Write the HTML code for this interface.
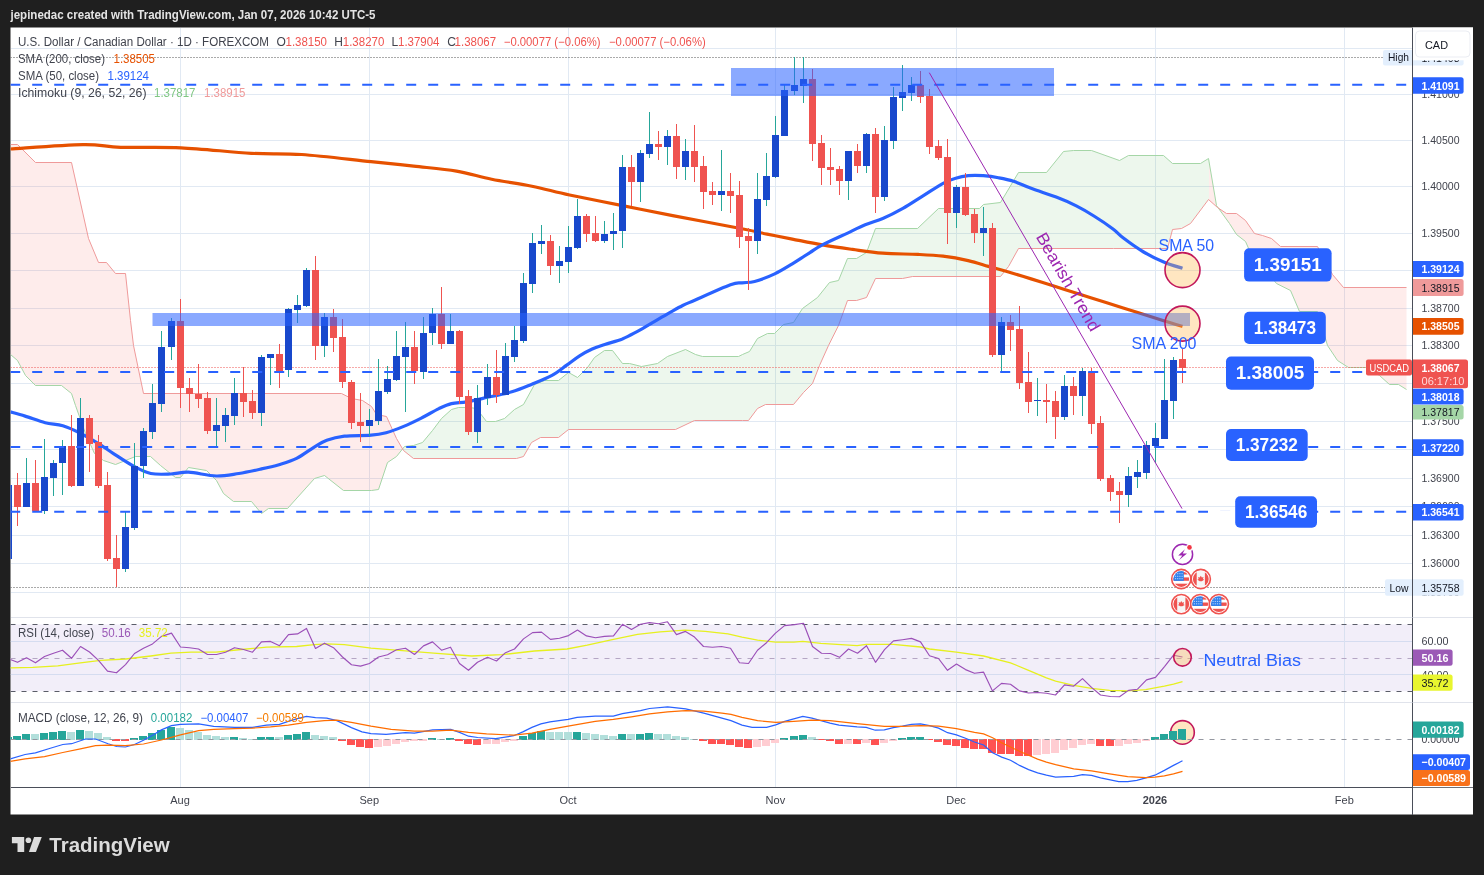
<!DOCTYPE html>
<html lang="en"><head><meta charset="utf-8"><title>USDCAD chart</title>
<style>html,body{margin:0;padding:0;background:#1f1f1f;overflow:hidden}svg{display:block}</style></head>
<body>
<svg width="1484" height="875" viewBox="0 0 1484 875" font-family='"Liberation Sans", "DejaVu Sans", sans-serif'>
<defs>
<clipPath id="cm"><rect x="10.5" y="27.5" width="1402.0" height="589.9"/></clipPath>
<clipPath id="cr"><rect x="10.5" y="617.4" width="1402.0" height="85.0"/></clipPath>
<clipPath id="cd"><rect x="10.5" y="702.4" width="1402.0" height="84.80000000000007"/></clipPath>
<clipPath id="cg"><rect x="402.6" y="27.5" width="806.4" height="600"/></clipPath>
<clipPath id="cp"><rect x="0" y="27.5" width="402.6" height="600"/><rect x="1209" y="27.5" width="300" height="600"/></clipPath>
</defs>
<rect width="1484" height="875" fill="#1f1f1f"/>
<rect x="10.5" y="27.5" width="1462.5" height="787.0" fill="#ffffff"/>
<g stroke="#e1e9f3" stroke-width="1" shape-rendering="crispEdges">
<line x1="10.5" y1="48.5" x2="1412.5" y2="48.5"/>
<line x1="10.5" y1="94" x2="1412.5" y2="94"/>
<line x1="10.5" y1="140.5" x2="1412.5" y2="140.5"/>
<line x1="10.5" y1="186.5" x2="1412.5" y2="186.5"/>
<line x1="10.5" y1="233.5" x2="1412.5" y2="233.5"/>
<line x1="10.5" y1="270.5" x2="1412.5" y2="270.5"/>
<line x1="10.5" y1="308.5" x2="1412.5" y2="308.5"/>
<line x1="10.5" y1="345.5" x2="1412.5" y2="345.5"/>
<line x1="10.5" y1="383.5" x2="1412.5" y2="383.5"/>
<line x1="10.5" y1="421.5" x2="1412.5" y2="421.5"/>
<line x1="10.5" y1="449.5" x2="1412.5" y2="449.5"/>
<line x1="10.5" y1="478.5" x2="1412.5" y2="478.5"/>
<line x1="10.5" y1="506.5" x2="1412.5" y2="506.5"/>
<line x1="10.5" y1="535.5" x2="1412.5" y2="535.5"/>
<line x1="10.5" y1="563.5" x2="1412.5" y2="563.5"/>
<line x1="10.5" y1="592.5" x2="1412.5" y2="592.5"/>
<line x1="180.5" y1="27.5" x2="180.5" y2="787.2"/>
<line x1="369.5" y1="27.5" x2="369.5" y2="787.2"/>
<line x1="568.5" y1="27.5" x2="568.5" y2="787.2"/>
<line x1="775.5" y1="27.5" x2="775.5" y2="787.2"/>
<line x1="956.5" y1="27.5" x2="956.5" y2="787.2"/>
<line x1="1155.5" y1="27.5" x2="1155.5" y2="787.2"/>
<line x1="1344.5" y1="27.5" x2="1344.5" y2="787.2"/>
<line x1="10.5" y1="641.5" x2="1412.5" y2="641.5"/>
<line x1="10.5" y1="674.5" x2="1412.5" y2="674.5"/>
</g>
<g clip-path="url(#cm)">
<g clip-path="url(#cg)"><polygon points="10.5,354.5 17.5,360.5 25.5,375.5 35.5,385.5 61.5,385.5 71.5,393.5 75.5,405.5 85.5,433.5 94.5,453.5 103.5,460.5 115.5,464.5 125.5,460.5 135.5,456.5 150.5,456.5 160.5,465.5 175.5,477.5 180.5,477.5 188.5,467.5 206.5,470.5 216.5,480.5 223.5,493.5 233.5,501.5 251.5,501.5 261.5,513.5 268.5,508.5 287.5,508.5 314.5,478.5 324.5,475.5 343.5,490.5 371.5,490.5 378.5,489.5 387.5,462.5 396.5,456.5 404.5,446.5 413.5,445.5 422.5,442.5 432.5,430.5 441.5,418.5 451.5,409.5 458.5,407.5 469.5,407.5 476.5,408.5 486.5,421.5 495.5,421.5 504.5,418.5 514.5,409.5 523.5,404.5 534.5,384.5 544.5,380.5 558.5,380.5 568.5,372.5 577.5,377.5 587.5,367.5 594.5,357.5 604.5,350.5 612.5,350.5 622.5,363.5 629.5,363.5 641.5,366.5 657.5,363.5 667.5,356.5 685.5,349.5 695.5,354.5 702.5,356.5 738.5,356.5 742.5,354.5 749.5,351.5 757.5,338.5 767.5,333.5 774.5,333.5 783.5,324.5 793.5,322.5 802.5,308.5 817.5,297.5 829.5,282.5 838.5,280.5 847.5,258.5 856.5,258.5 866.5,252.5 875.5,228.5 917.5,228.5 938.5,208.5 979.5,208.5 983.5,204.5 1000.5,202.5 1018.5,172.5 1046.5,172.5 1063.5,151.5 1073.5,150.5 1091.5,150.5 1119.5,160.5 1128.5,155.5 1163.5,155.5 1172.5,163.5 1200.5,163.5 1208.5,158.5 1216.5,205.5 1229.5,223.5 1236.5,234.5 1245.5,241.5 1249.5,250.5 1276.5,283.5 1290.5,290.5 1299.5,311.5 1317.5,311.5 1327.5,345.5 1337.5,360.5 1348.5,367.5 1367.5,367.5 1379.5,375.5 1389.5,384.5 1398.5,384.5 1406.5,389.5 1406.5,287.5 1343.5,287.5 1332.5,274.5 1317.5,246.5 1280.5,246.5 1271.5,238.5 1262.5,235.5 1254.5,233.5 1245.5,220.5 1236.5,213.5 1226.5,213.5 1217.5,207.5 1208.5,199.5 1190.5,223.5 1181.5,228.5 1172.5,229.5 1167.5,248.5 1113.5,248.5 1018.5,248.5 1008.5,266.5 1000.5,276.5 912.5,276.5 902.5,278.5 875.5,278.5 866.5,297.5 856.5,300.5 847.5,300.5 838.5,325.5 828.5,345.5 819.5,365.5 812.5,383.5 803.5,392.5 793.5,404.5 765.5,404.5 757.5,408.5 748.5,420.5 742.5,420.5 694.5,420.5 675.5,429.5 568.5,429.5 558.5,437.5 540.5,437.5 531.5,442.5 523.5,456.5 516.5,458.5 413.5,458.5 403.5,450.5 396.5,438.5 386.5,416.5 376.5,414.5 371.5,406.5 362.5,400.5 351.5,398.5 341.5,393.5 143.5,393.5 133.5,345.5 130.5,320.5 125.5,273.5 115.5,273.5 106.5,262.5 98.5,262.5 88.5,238.5 71.5,162.5 35.5,162.5 17.5,144.5 10.5,144.5" fill="#4caf50" fill-opacity="0.1"/></g>
<g clip-path="url(#cp)"><polygon points="10.5,354.5 17.5,360.5 25.5,375.5 35.5,385.5 61.5,385.5 71.5,393.5 75.5,405.5 85.5,433.5 94.5,453.5 103.5,460.5 115.5,464.5 125.5,460.5 135.5,456.5 150.5,456.5 160.5,465.5 175.5,477.5 180.5,477.5 188.5,467.5 206.5,470.5 216.5,480.5 223.5,493.5 233.5,501.5 251.5,501.5 261.5,513.5 268.5,508.5 287.5,508.5 314.5,478.5 324.5,475.5 343.5,490.5 371.5,490.5 378.5,489.5 387.5,462.5 396.5,456.5 404.5,446.5 413.5,445.5 422.5,442.5 432.5,430.5 441.5,418.5 451.5,409.5 458.5,407.5 469.5,407.5 476.5,408.5 486.5,421.5 495.5,421.5 504.5,418.5 514.5,409.5 523.5,404.5 534.5,384.5 544.5,380.5 558.5,380.5 568.5,372.5 577.5,377.5 587.5,367.5 594.5,357.5 604.5,350.5 612.5,350.5 622.5,363.5 629.5,363.5 641.5,366.5 657.5,363.5 667.5,356.5 685.5,349.5 695.5,354.5 702.5,356.5 738.5,356.5 742.5,354.5 749.5,351.5 757.5,338.5 767.5,333.5 774.5,333.5 783.5,324.5 793.5,322.5 802.5,308.5 817.5,297.5 829.5,282.5 838.5,280.5 847.5,258.5 856.5,258.5 866.5,252.5 875.5,228.5 917.5,228.5 938.5,208.5 979.5,208.5 983.5,204.5 1000.5,202.5 1018.5,172.5 1046.5,172.5 1063.5,151.5 1073.5,150.5 1091.5,150.5 1119.5,160.5 1128.5,155.5 1163.5,155.5 1172.5,163.5 1200.5,163.5 1208.5,158.5 1216.5,205.5 1229.5,223.5 1236.5,234.5 1245.5,241.5 1249.5,250.5 1276.5,283.5 1290.5,290.5 1299.5,311.5 1317.5,311.5 1327.5,345.5 1337.5,360.5 1348.5,367.5 1367.5,367.5 1379.5,375.5 1389.5,384.5 1398.5,384.5 1406.5,389.5 1406.5,287.5 1343.5,287.5 1332.5,274.5 1317.5,246.5 1280.5,246.5 1271.5,238.5 1262.5,235.5 1254.5,233.5 1245.5,220.5 1236.5,213.5 1226.5,213.5 1217.5,207.5 1208.5,199.5 1190.5,223.5 1181.5,228.5 1172.5,229.5 1167.5,248.5 1113.5,248.5 1018.5,248.5 1008.5,266.5 1000.5,276.5 912.5,276.5 902.5,278.5 875.5,278.5 866.5,297.5 856.5,300.5 847.5,300.5 838.5,325.5 828.5,345.5 819.5,365.5 812.5,383.5 803.5,392.5 793.5,404.5 765.5,404.5 757.5,408.5 748.5,420.5 742.5,420.5 694.5,420.5 675.5,429.5 568.5,429.5 558.5,437.5 540.5,437.5 531.5,442.5 523.5,456.5 516.5,458.5 413.5,458.5 403.5,450.5 396.5,438.5 386.5,416.5 376.5,414.5 371.5,406.5 362.5,400.5 351.5,398.5 341.5,393.5 143.5,393.5 133.5,345.5 130.5,320.5 125.5,273.5 115.5,273.5 106.5,262.5 98.5,262.5 88.5,238.5 71.5,162.5 35.5,162.5 17.5,144.5 10.5,144.5" fill="#f44336" fill-opacity="0.1"/></g>
<polyline points="10.5,354.5 17.5,360.5 25.5,375.5 35.5,385.5 61.5,385.5 71.5,393.5 75.5,405.5 85.5,433.5 94.5,453.5 103.5,460.5 115.5,464.5 125.5,460.5 135.5,456.5 150.5,456.5 160.5,465.5 175.5,477.5 180.5,477.5 188.5,467.5 206.5,470.5 216.5,480.5 223.5,493.5 233.5,501.5 251.5,501.5 261.5,513.5 268.5,508.5 287.5,508.5 314.5,478.5 324.5,475.5 343.5,490.5 371.5,490.5 378.5,489.5 387.5,462.5 396.5,456.5 404.5,446.5 413.5,445.5 422.5,442.5 432.5,430.5 441.5,418.5 451.5,409.5 458.5,407.5 469.5,407.5 476.5,408.5 486.5,421.5 495.5,421.5 504.5,418.5 514.5,409.5 523.5,404.5 534.5,384.5 544.5,380.5 558.5,380.5 568.5,372.5 577.5,377.5 587.5,367.5 594.5,357.5 604.5,350.5 612.5,350.5 622.5,363.5 629.5,363.5 641.5,366.5 657.5,363.5 667.5,356.5 685.5,349.5 695.5,354.5 702.5,356.5 738.5,356.5 742.5,354.5 749.5,351.5 757.5,338.5 767.5,333.5 774.5,333.5 783.5,324.5 793.5,322.5 802.5,308.5 817.5,297.5 829.5,282.5 838.5,280.5 847.5,258.5 856.5,258.5 866.5,252.5 875.5,228.5 917.5,228.5 938.5,208.5 979.5,208.5 983.5,204.5 1000.5,202.5 1018.5,172.5 1046.5,172.5 1063.5,151.5 1073.5,150.5 1091.5,150.5 1119.5,160.5 1128.5,155.5 1163.5,155.5 1172.5,163.5 1200.5,163.5 1208.5,158.5 1216.5,205.5 1229.5,223.5 1236.5,234.5 1245.5,241.5 1249.5,250.5 1276.5,283.5 1290.5,290.5 1299.5,311.5 1317.5,311.5 1327.5,345.5 1337.5,360.5 1348.5,367.5 1367.5,367.5 1379.5,375.5 1389.5,384.5 1398.5,384.5 1406.5,389.5" fill="none" stroke="#a5d6a7" stroke-width="1"/>
<polyline points="10.5,144.5 17.5,144.5 35.5,162.5 71.5,162.5 88.5,238.5 98.5,262.5 106.5,262.5 115.5,273.5 125.5,273.5 130.5,320.5 133.5,345.5 143.5,393.5 341.5,393.5 351.5,398.5 362.5,400.5 371.5,406.5 376.5,414.5 386.5,416.5 396.5,438.5 403.5,450.5 413.5,458.5 516.5,458.5 523.5,456.5 531.5,442.5 540.5,437.5 558.5,437.5 568.5,429.5 675.5,429.5 694.5,420.5 742.5,420.5 748.5,420.5 757.5,408.5 765.5,404.5 793.5,404.5 803.5,392.5 812.5,383.5 819.5,365.5 828.5,345.5 838.5,325.5 847.5,300.5 856.5,300.5 866.5,297.5 875.5,278.5 902.5,278.5 912.5,276.5 1000.5,276.5 1008.5,266.5 1018.5,248.5 1113.5,248.5 1167.5,248.5 1172.5,229.5 1181.5,228.5 1190.5,223.5 1208.5,199.5 1217.5,207.5 1226.5,213.5 1236.5,213.5 1245.5,220.5 1254.5,233.5 1262.5,235.5 1271.5,238.5 1280.5,246.5 1317.5,246.5 1332.5,274.5 1343.5,287.5 1406.5,287.5" fill="none" stroke="#ef9a9a" stroke-width="1"/>
<line x1="10.5" y1="57.5" x2="1412.5" y2="57.5" stroke="#555" stroke-width="1" stroke-dasharray="1 2"/>
<line x1="10.5" y1="587.5" x2="1412.5" y2="587.5" stroke="#555" stroke-width="1" stroke-dasharray="1 2"/>
<line x1="10.5" y1="367.5" x2="1412.5" y2="367.5" stroke="#ef5350" stroke-width="1" stroke-dasharray="1 2"/>
<path d="M10.3,149 C22.4,148.3 64.6,145 83,144.7 C101.4,144.4 104.4,146.8 120.7,147.3 C137,147.8 159.2,146.8 181,147.8 C202.8,148.8 231.3,152.2 251.4,153.3 C271.5,154.4 281.8,153.1 301.7,154.5 C321.6,155.9 352.3,159.7 371,161.6 C389.7,163.5 399.4,164.5 413.7,166.1 C427.9,167.7 443.5,168.9 456.5,171.1 C469.5,173.3 479.1,176.7 491.7,179.2 C504.3,181.7 518.9,183.6 531.9,186.2 C544.9,188.8 554.5,191.8 569.6,195 C584.7,198.2 605.2,202.2 622.4,205.6 C639.6,209 652.8,211.7 672.7,215.6 C692.6,219.5 726.3,225.7 742,228.8 C757.7,231.9 758.8,232.4 767.1,234.1 C775.5,235.8 783.1,237.3 792.3,239.1 C801.5,240.9 812.4,243.2 822.4,244.9 C832.5,246.6 842.6,248 852.6,249.4 C862.7,250.8 871.9,252.3 882.8,253.2 C893.7,254 907.9,253.9 918,254.4 C928,254.9 934.7,255.2 943.1,256.2 C951.5,257.2 960.7,258.9 968.2,260.6 C975.8,262.3 982.1,264.6 988.4,266.4 C994.6,268.2 998.9,269.1 1006,271.2 C1013.1,273.3 1022.7,276.3 1031.1,278.9 C1039.5,281.5 1047.8,284.1 1056.2,286.8 C1064.6,289.5 1073.1,292.2 1081.4,294.8 C1089.7,297.4 1096.5,299.5 1106,302.5 C1115.5,305.5 1128.9,309.8 1138.5,312.8 C1148.1,315.9 1156.4,318.5 1163.7,320.8 C1171,323.1 1179.4,325.5 1182.5,326.4" fill="none" stroke="#e65100" stroke-width="3.2" stroke-linejoin="round"/>
<path d="M10.3,411.9 C12.8,412.6 19.3,414.3 25.1,416.1 C31,417.9 39,421.1 45.2,422.7 C51.5,424.3 57,423.9 62.8,425.7 C68.7,427.5 74.6,430.3 80.4,433.2 C86.3,436.2 92.6,439.9 98,443.3 C103.5,446.6 107.3,449.6 113.1,453.3 C119,457.1 126.9,462.6 133.2,465.9 C139.5,469.3 144.5,472.1 150.8,473.5 C157.1,474.8 164.7,474.2 170.9,474 C177.2,473.7 181,471.9 188.5,472.2 C196.1,472.5 207.8,475.8 216.2,476 C224.6,476.2 231.3,474.6 238.8,473.5 C246.4,472.3 254.7,470.4 261.4,468.9 C268.1,467.5 273.2,466.4 279,464.7 C284.9,462.9 290.8,461.3 296.6,458.4 C302.5,455.4 309.2,450.1 314.2,447.1 C319.3,444 321.8,442.1 326.8,440.3 C331.8,438.5 337,437.1 344.4,436.2 C351.8,435.4 364.1,435.8 371,435.2 C378,434.7 380.6,434.2 386.1,432.7 C391.5,431.3 397.8,428.9 403.7,426.4 C409.5,424 415.4,421.1 421.3,418.1 C427.1,415.2 433.8,411 438.9,408.6 C443.9,406.2 446.8,404.7 451.4,403.6 C456.1,402.4 460.7,402.8 466.5,401.8 C472.4,400.8 479.1,399.2 486.6,397.5 C494.2,395.9 504.2,394 511.8,391.8 C519.3,389.5 525.2,386.9 531.9,384.2 C538.6,381.5 546.1,378.6 552,375.4 C557.9,372.2 562.5,368.1 567.1,364.9 C571.7,361.6 575.5,358.4 579.6,355.8 C583.8,353.2 588,350.9 592.2,349 C596.4,347.1 599.8,346.2 604.8,344.5 C609.8,342.8 616.9,341.1 622.4,339 C627.8,336.8 632.4,334.1 637.5,331.4 C642.5,328.7 647.5,325.6 652.5,322.6 C657.6,319.7 662.6,316.7 667.6,313.8 C672.7,311 678.1,307.8 682.7,305.5 C687.3,303.2 687.3,303.5 695.3,300 C703.2,296.5 722.7,287.6 730.5,284.8 C738.3,281.9 738,283.3 742,282.8 C746.1,282.2 749.1,282.9 754.6,281.5 C760,280 768.4,276.9 774.7,273.9 C781,271 786.4,267.4 792.3,263.9 C798.1,260.3 804.8,255.7 809.9,252.6 C814.9,249.4 816.2,248.1 822.4,244.9 C828.7,241.6 840.5,236.4 847.6,233.1 C854.7,229.7 859.3,227.2 865.2,224.8 C871,222.3 876.5,221.2 882.8,218.5 C889.1,215.8 896.2,212.2 902.9,208.4 C909.6,204.7 916.3,200 923,195.9 C929.7,191.7 937.7,186.2 943.1,183.3 C948.6,180.4 951.5,179.5 955.7,178.3 C959.9,177 963.6,176.2 968.2,175.7 C972.9,175.3 978.3,175.4 983.3,175.7 C988.4,176.1 993.4,176.8 998.4,177.8 C1003.4,178.7 1008,179.5 1013.5,181.3 C1018.9,183 1024,185.7 1031.1,188.3 C1038.2,191 1048.7,194.2 1056.2,197.1 C1063.8,200 1070.1,202.8 1076.3,205.9 C1082.6,209.1 1087.8,212.1 1093.9,216 C1100.1,219.8 1108.1,225.3 1113,229 C1118,232.7 1118.4,234.3 1123.4,238.1 C1128.5,242 1136.8,248 1143.6,252 C1150.3,256 1157.2,259.3 1163.7,262 C1170.2,264.8 1179.4,267.3 1182.5,268.3" fill="none" stroke="#2962ff" stroke-width="3.2" stroke-linejoin="round"/>
<line x1="8.5" y1="480" x2="8.5" y2="562" stroke="#26a69a" stroke-width="1"/>
<rect x="5.0" y="485" width="7" height="74" fill="#1848cc"/>
<line x1="17.5" y1="473" x2="17.5" y2="526" stroke="#ef5350" stroke-width="1"/>
<rect x="14.0" y="485" width="7" height="22" fill="#ef5350"/>
<line x1="26.5" y1="458" x2="26.5" y2="507" stroke="#26a69a" stroke-width="1"/>
<rect x="23.0" y="483" width="7" height="24" fill="#1848cc"/>
<line x1="35.5" y1="460" x2="35.5" y2="512" stroke="#ef5350" stroke-width="1"/>
<rect x="32.0" y="483" width="7" height="28" fill="#ef5350"/>
<line x1="44.5" y1="439" x2="44.5" y2="514" stroke="#26a69a" stroke-width="1"/>
<rect x="41.0" y="477" width="7" height="34" fill="#1848cc"/>
<line x1="53.5" y1="460" x2="53.5" y2="496" stroke="#26a69a" stroke-width="1"/>
<rect x="50.0" y="463" width="7" height="15" fill="#1848cc"/>
<line x1="62.5" y1="440" x2="62.5" y2="495" stroke="#26a69a" stroke-width="1"/>
<rect x="59.0" y="446" width="7" height="17" fill="#1848cc"/>
<line x1="71.5" y1="415" x2="71.5" y2="487" stroke="#ef5350" stroke-width="1"/>
<rect x="68.0" y="446" width="7" height="40" fill="#ef5350"/>
<line x1="80.5" y1="398" x2="80.5" y2="486" stroke="#26a69a" stroke-width="1"/>
<rect x="77.0" y="418" width="7" height="68" fill="#1848cc"/>
<line x1="89.5" y1="415" x2="89.5" y2="472" stroke="#ef5350" stroke-width="1"/>
<rect x="86.0" y="418" width="7" height="26" fill="#ef5350"/>
<line x1="98.5" y1="435" x2="98.5" y2="488" stroke="#ef5350" stroke-width="1"/>
<rect x="95.0" y="442" width="7" height="44" fill="#ef5350"/>
<line x1="107.5" y1="472" x2="107.5" y2="561" stroke="#ef5350" stroke-width="1"/>
<rect x="104.0" y="485" width="7" height="74" fill="#ef5350"/>
<line x1="116.5" y1="535" x2="116.5" y2="587" stroke="#ef5350" stroke-width="1"/>
<rect x="113.0" y="558" width="7" height="11" fill="#ef5350"/>
<line x1="125.5" y1="512" x2="125.5" y2="572" stroke="#26a69a" stroke-width="1"/>
<rect x="122.0" y="527" width="7" height="42" fill="#1848cc"/>
<line x1="134.5" y1="443" x2="134.5" y2="530" stroke="#26a69a" stroke-width="1"/>
<rect x="131.0" y="466" width="7" height="62" fill="#1848cc"/>
<line x1="143.5" y1="428" x2="143.5" y2="478" stroke="#26a69a" stroke-width="1"/>
<rect x="140.0" y="431" width="7" height="35" fill="#1848cc"/>
<line x1="152.5" y1="384" x2="152.5" y2="439" stroke="#26a69a" stroke-width="1"/>
<rect x="149.0" y="403" width="7" height="29" fill="#1848cc"/>
<line x1="161.5" y1="331" x2="161.5" y2="412" stroke="#26a69a" stroke-width="1"/>
<rect x="158.0" y="347" width="7" height="57" fill="#1848cc"/>
<line x1="171.5" y1="318" x2="171.5" y2="360" stroke="#26a69a" stroke-width="1"/>
<rect x="168.0" y="321" width="7" height="26" fill="#1848cc"/>
<line x1="180.5" y1="299" x2="180.5" y2="408" stroke="#ef5350" stroke-width="1"/>
<rect x="177.0" y="321" width="7" height="67" fill="#ef5350"/>
<line x1="189.5" y1="378" x2="189.5" y2="412" stroke="#ef5350" stroke-width="1"/>
<rect x="186.0" y="388" width="7" height="6" fill="#ef5350"/>
<line x1="198.5" y1="364" x2="198.5" y2="408" stroke="#ef5350" stroke-width="1"/>
<rect x="195.0" y="394" width="7" height="5" fill="#ef5350"/>
<line x1="207.5" y1="392" x2="207.5" y2="434" stroke="#ef5350" stroke-width="1"/>
<rect x="204.0" y="398" width="7" height="33" fill="#ef5350"/>
<line x1="216.5" y1="398" x2="216.5" y2="447" stroke="#26a69a" stroke-width="1"/>
<rect x="213.0" y="425" width="7" height="6" fill="#1848cc"/>
<line x1="225.5" y1="408" x2="225.5" y2="442" stroke="#26a69a" stroke-width="1"/>
<rect x="222.0" y="415" width="7" height="11" fill="#1848cc"/>
<line x1="234.5" y1="378" x2="234.5" y2="425" stroke="#26a69a" stroke-width="1"/>
<rect x="231.0" y="393" width="7" height="23" fill="#1848cc"/>
<line x1="243.5" y1="367" x2="243.5" y2="417" stroke="#ef5350" stroke-width="1"/>
<rect x="240.0" y="393" width="7" height="9" fill="#ef5350"/>
<line x1="252.5" y1="390" x2="252.5" y2="419" stroke="#ef5350" stroke-width="1"/>
<rect x="249.0" y="401" width="7" height="12" fill="#ef5350"/>
<line x1="261.5" y1="355" x2="261.5" y2="426" stroke="#26a69a" stroke-width="1"/>
<rect x="258.0" y="357" width="7" height="56" fill="#1848cc"/>
<line x1="270.5" y1="354" x2="270.5" y2="385" stroke="#26a69a" stroke-width="1"/>
<rect x="267.0" y="354" width="7" height="4" fill="#1848cc"/>
<line x1="279.5" y1="344" x2="279.5" y2="388" stroke="#ef5350" stroke-width="1"/>
<rect x="276.0" y="354" width="7" height="17" fill="#ef5350"/>
<line x1="288.5" y1="308" x2="288.5" y2="377" stroke="#26a69a" stroke-width="1"/>
<rect x="285.0" y="309" width="7" height="61" fill="#1848cc"/>
<line x1="297.5" y1="295" x2="297.5" y2="323" stroke="#26a69a" stroke-width="1"/>
<rect x="294.0" y="305" width="7" height="5" fill="#1848cc"/>
<line x1="306.5" y1="268" x2="306.5" y2="307" stroke="#26a69a" stroke-width="1"/>
<rect x="303.0" y="270" width="7" height="36" fill="#1848cc"/>
<line x1="315.5" y1="256" x2="315.5" y2="360" stroke="#ef5350" stroke-width="1"/>
<rect x="312.0" y="270" width="7" height="76" fill="#ef5350"/>
<line x1="324.5" y1="313" x2="324.5" y2="357" stroke="#26a69a" stroke-width="1"/>
<rect x="321.0" y="317" width="7" height="29" fill="#1848cc"/>
<line x1="333.5" y1="309" x2="333.5" y2="352" stroke="#ef5350" stroke-width="1"/>
<rect x="330.0" y="317" width="7" height="21" fill="#ef5350"/>
<line x1="342.5" y1="319" x2="342.5" y2="388" stroke="#ef5350" stroke-width="1"/>
<rect x="339.0" y="337" width="7" height="45" fill="#ef5350"/>
<line x1="351.5" y1="380" x2="351.5" y2="429" stroke="#ef5350" stroke-width="1"/>
<rect x="348.0" y="382" width="7" height="41" fill="#ef5350"/>
<line x1="360.5" y1="393" x2="360.5" y2="442" stroke="#ef5350" stroke-width="1"/>
<rect x="357.0" y="422" width="7" height="4" fill="#ef5350"/>
<line x1="369.5" y1="409" x2="369.5" y2="436" stroke="#26a69a" stroke-width="1"/>
<rect x="366.0" y="420" width="7" height="6" fill="#1848cc"/>
<line x1="378.5" y1="359" x2="378.5" y2="425" stroke="#26a69a" stroke-width="1"/>
<rect x="375.0" y="391" width="7" height="30" fill="#1848cc"/>
<line x1="387.5" y1="366" x2="387.5" y2="394" stroke="#26a69a" stroke-width="1"/>
<rect x="384.0" y="379" width="7" height="13" fill="#1848cc"/>
<line x1="396.5" y1="331" x2="396.5" y2="381" stroke="#26a69a" stroke-width="1"/>
<rect x="393.0" y="356" width="7" height="24" fill="#1848cc"/>
<line x1="405.5" y1="322" x2="405.5" y2="412" stroke="#26a69a" stroke-width="1"/>
<rect x="402.0" y="347" width="7" height="10" fill="#1848cc"/>
<line x1="414.5" y1="331" x2="414.5" y2="384" stroke="#ef5350" stroke-width="1"/>
<rect x="411.0" y="347" width="7" height="24" fill="#ef5350"/>
<line x1="423.5" y1="317" x2="423.5" y2="379" stroke="#26a69a" stroke-width="1"/>
<rect x="420.0" y="333" width="7" height="39" fill="#1848cc"/>
<line x1="432.5" y1="308" x2="432.5" y2="345" stroke="#26a69a" stroke-width="1"/>
<rect x="429.0" y="314" width="7" height="19" fill="#1848cc"/>
<line x1="441.5" y1="287" x2="441.5" y2="349" stroke="#ef5350" stroke-width="1"/>
<rect x="438.0" y="314" width="7" height="30" fill="#ef5350"/>
<line x1="450.5" y1="314" x2="450.5" y2="344" stroke="#26a69a" stroke-width="1"/>
<rect x="447.0" y="331" width="7" height="13" fill="#1848cc"/>
<line x1="459.5" y1="330" x2="459.5" y2="404" stroke="#ef5350" stroke-width="1"/>
<rect x="456.0" y="331" width="7" height="66" fill="#ef5350"/>
<line x1="468.5" y1="390" x2="468.5" y2="435" stroke="#ef5350" stroke-width="1"/>
<rect x="465.0" y="396" width="7" height="36" fill="#ef5350"/>
<line x1="477.5" y1="385" x2="477.5" y2="443" stroke="#26a69a" stroke-width="1"/>
<rect x="474.0" y="398" width="7" height="34" fill="#1848cc"/>
<line x1="487.5" y1="364" x2="487.5" y2="405" stroke="#26a69a" stroke-width="1"/>
<rect x="484.0" y="377" width="7" height="21" fill="#1848cc"/>
<line x1="496.5" y1="350" x2="496.5" y2="403" stroke="#ef5350" stroke-width="1"/>
<rect x="493.0" y="377" width="7" height="18" fill="#ef5350"/>
<line x1="505.5" y1="343" x2="505.5" y2="395" stroke="#26a69a" stroke-width="1"/>
<rect x="502.0" y="356" width="7" height="39" fill="#1848cc"/>
<line x1="514.5" y1="326" x2="514.5" y2="362" stroke="#26a69a" stroke-width="1"/>
<rect x="511.0" y="340" width="7" height="17" fill="#1848cc"/>
<line x1="523.5" y1="273" x2="523.5" y2="343" stroke="#26a69a" stroke-width="1"/>
<rect x="520.0" y="283" width="7" height="58" fill="#1848cc"/>
<line x1="532.5" y1="233" x2="532.5" y2="293" stroke="#26a69a" stroke-width="1"/>
<rect x="529.0" y="243" width="7" height="41" fill="#1848cc"/>
<line x1="541.5" y1="225" x2="541.5" y2="254" stroke="#26a69a" stroke-width="1"/>
<rect x="538.0" y="241" width="7" height="3" fill="#1848cc"/>
<line x1="550.5" y1="235" x2="550.5" y2="275" stroke="#ef5350" stroke-width="1"/>
<rect x="547.0" y="241" width="7" height="25" fill="#ef5350"/>
<line x1="559.5" y1="246" x2="559.5" y2="283" stroke="#26a69a" stroke-width="1"/>
<rect x="556.0" y="261" width="7" height="5" fill="#1848cc"/>
<line x1="568.5" y1="226" x2="568.5" y2="273" stroke="#26a69a" stroke-width="1"/>
<rect x="565.0" y="247" width="7" height="15" fill="#1848cc"/>
<line x1="577.5" y1="199" x2="577.5" y2="249" stroke="#26a69a" stroke-width="1"/>
<rect x="574.0" y="216" width="7" height="32" fill="#1848cc"/>
<line x1="586.5" y1="214" x2="586.5" y2="242" stroke="#ef5350" stroke-width="1"/>
<rect x="583.0" y="216" width="7" height="18" fill="#ef5350"/>
<line x1="595.5" y1="216" x2="595.5" y2="242" stroke="#ef5350" stroke-width="1"/>
<rect x="592.0" y="233" width="7" height="8" fill="#ef5350"/>
<line x1="604.5" y1="221" x2="604.5" y2="243" stroke="#26a69a" stroke-width="1"/>
<rect x="601.0" y="234" width="7" height="7" fill="#1848cc"/>
<line x1="613.5" y1="213" x2="613.5" y2="250" stroke="#26a69a" stroke-width="1"/>
<rect x="610.0" y="231" width="7" height="3" fill="#1848cc"/>
<line x1="622.5" y1="155" x2="622.5" y2="248" stroke="#26a69a" stroke-width="1"/>
<rect x="619.0" y="167" width="7" height="64" fill="#1848cc"/>
<line x1="631.5" y1="155" x2="631.5" y2="206" stroke="#ef5350" stroke-width="1"/>
<rect x="628.0" y="167" width="7" height="15" fill="#ef5350"/>
<line x1="640.5" y1="150" x2="640.5" y2="202" stroke="#26a69a" stroke-width="1"/>
<rect x="637.0" y="153" width="7" height="29" fill="#1848cc"/>
<line x1="649.5" y1="112" x2="649.5" y2="158" stroke="#26a69a" stroke-width="1"/>
<rect x="646.0" y="144" width="7" height="10" fill="#1848cc"/>
<line x1="658.5" y1="131" x2="658.5" y2="160" stroke="#ef5350" stroke-width="1"/>
<rect x="655.0" y="144" width="7" height="3" fill="#ef5350"/>
<line x1="667.5" y1="130" x2="667.5" y2="165" stroke="#26a69a" stroke-width="1"/>
<rect x="664.0" y="136" width="7" height="11" fill="#1848cc"/>
<line x1="676.5" y1="124" x2="676.5" y2="179" stroke="#ef5350" stroke-width="1"/>
<rect x="673.0" y="136" width="7" height="31" fill="#ef5350"/>
<line x1="685.5" y1="139" x2="685.5" y2="180" stroke="#26a69a" stroke-width="1"/>
<rect x="682.0" y="151" width="7" height="16" fill="#1848cc"/>
<line x1="694.5" y1="125" x2="694.5" y2="182" stroke="#ef5350" stroke-width="1"/>
<rect x="691.0" y="151" width="7" height="16" fill="#ef5350"/>
<line x1="703.5" y1="156" x2="703.5" y2="209" stroke="#ef5350" stroke-width="1"/>
<rect x="700.0" y="166" width="7" height="26" fill="#ef5350"/>
<line x1="712.5" y1="182" x2="712.5" y2="205" stroke="#ef5350" stroke-width="1"/>
<rect x="709.0" y="191" width="7" height="4" fill="#ef5350"/>
<line x1="721.5" y1="150" x2="721.5" y2="211" stroke="#26a69a" stroke-width="1"/>
<rect x="718.0" y="191" width="7" height="4" fill="#1848cc"/>
<line x1="730.5" y1="173" x2="730.5" y2="213" stroke="#ef5350" stroke-width="1"/>
<rect x="727.0" y="191" width="7" height="5" fill="#ef5350"/>
<line x1="739.5" y1="181" x2="739.5" y2="248" stroke="#ef5350" stroke-width="1"/>
<rect x="736.0" y="195" width="7" height="42" fill="#ef5350"/>
<line x1="748.5" y1="228" x2="748.5" y2="290" stroke="#ef5350" stroke-width="1"/>
<rect x="745.0" y="236" width="7" height="5" fill="#ef5350"/>
<line x1="757.5" y1="173" x2="757.5" y2="254" stroke="#26a69a" stroke-width="1"/>
<rect x="754.0" y="199" width="7" height="42" fill="#1848cc"/>
<line x1="766.5" y1="153" x2="766.5" y2="206" stroke="#26a69a" stroke-width="1"/>
<rect x="763.0" y="176" width="7" height="24" fill="#1848cc"/>
<line x1="775.5" y1="116" x2="775.5" y2="178" stroke="#26a69a" stroke-width="1"/>
<rect x="772.0" y="135" width="7" height="42" fill="#1848cc"/>
<line x1="784.5" y1="85" x2="784.5" y2="136" stroke="#26a69a" stroke-width="1"/>
<rect x="781.0" y="90" width="7" height="46" fill="#1848cc"/>
<line x1="794.5" y1="57" x2="794.5" y2="95" stroke="#26a69a" stroke-width="1"/>
<rect x="791.0" y="85" width="7" height="6" fill="#1848cc"/>
<line x1="803.5" y1="57" x2="803.5" y2="103" stroke="#26a69a" stroke-width="1"/>
<rect x="800.0" y="79" width="7" height="7" fill="#1848cc"/>
<line x1="812.5" y1="69" x2="812.5" y2="161" stroke="#ef5350" stroke-width="1"/>
<rect x="809.0" y="79" width="7" height="65" fill="#ef5350"/>
<line x1="821.5" y1="135" x2="821.5" y2="185" stroke="#ef5350" stroke-width="1"/>
<rect x="818.0" y="143" width="7" height="25" fill="#ef5350"/>
<line x1="830.5" y1="148" x2="830.5" y2="185" stroke="#ef5350" stroke-width="1"/>
<rect x="827.0" y="167" width="7" height="3" fill="#ef5350"/>
<line x1="839.5" y1="166" x2="839.5" y2="195" stroke="#ef5350" stroke-width="1"/>
<rect x="836.0" y="169" width="7" height="12" fill="#ef5350"/>
<line x1="848.5" y1="151" x2="848.5" y2="200" stroke="#26a69a" stroke-width="1"/>
<rect x="845.0" y="151" width="7" height="30" fill="#1848cc"/>
<line x1="857.5" y1="144" x2="857.5" y2="173" stroke="#ef5350" stroke-width="1"/>
<rect x="854.0" y="151" width="7" height="15" fill="#ef5350"/>
<line x1="866.5" y1="133" x2="866.5" y2="173" stroke="#26a69a" stroke-width="1"/>
<rect x="863.0" y="134" width="7" height="32" fill="#1848cc"/>
<line x1="875.5" y1="128" x2="875.5" y2="213" stroke="#ef5350" stroke-width="1"/>
<rect x="872.0" y="134" width="7" height="63" fill="#ef5350"/>
<line x1="884.5" y1="126" x2="884.5" y2="201" stroke="#26a69a" stroke-width="1"/>
<rect x="881.0" y="140" width="7" height="57" fill="#1848cc"/>
<line x1="893.5" y1="87" x2="893.5" y2="149" stroke="#26a69a" stroke-width="1"/>
<rect x="890.0" y="97" width="7" height="44" fill="#1848cc"/>
<line x1="902.5" y1="65" x2="902.5" y2="111" stroke="#26a69a" stroke-width="1"/>
<rect x="899.0" y="92" width="7" height="6" fill="#1848cc"/>
<line x1="911.5" y1="77" x2="911.5" y2="101" stroke="#26a69a" stroke-width="1"/>
<rect x="908.0" y="85" width="7" height="8" fill="#1848cc"/>
<line x1="920.5" y1="71" x2="920.5" y2="103" stroke="#ef5350" stroke-width="1"/>
<rect x="917.0" y="85" width="7" height="12" fill="#ef5350"/>
<line x1="929.5" y1="89" x2="929.5" y2="154" stroke="#ef5350" stroke-width="1"/>
<rect x="926.0" y="96" width="7" height="51" fill="#ef5350"/>
<line x1="938.5" y1="140" x2="938.5" y2="160" stroke="#ef5350" stroke-width="1"/>
<rect x="935.0" y="146" width="7" height="12" fill="#ef5350"/>
<line x1="947.5" y1="139" x2="947.5" y2="244" stroke="#ef5350" stroke-width="1"/>
<rect x="944.0" y="157" width="7" height="56" fill="#ef5350"/>
<line x1="956.5" y1="185" x2="956.5" y2="228" stroke="#26a69a" stroke-width="1"/>
<rect x="953.0" y="187" width="7" height="26" fill="#1848cc"/>
<line x1="965.5" y1="173" x2="965.5" y2="216" stroke="#ef5350" stroke-width="1"/>
<rect x="962.0" y="187" width="7" height="28" fill="#ef5350"/>
<line x1="974.5" y1="209" x2="974.5" y2="243" stroke="#ef5350" stroke-width="1"/>
<rect x="971.0" y="214" width="7" height="19" fill="#ef5350"/>
<line x1="983.5" y1="207" x2="983.5" y2="256" stroke="#26a69a" stroke-width="1"/>
<rect x="980.0" y="228" width="7" height="5" fill="#1848cc"/>
<line x1="992.5" y1="223" x2="992.5" y2="357" stroke="#ef5350" stroke-width="1"/>
<rect x="989.0" y="228" width="7" height="127" fill="#ef5350"/>
<line x1="1001.5" y1="317" x2="1001.5" y2="371" stroke="#26a69a" stroke-width="1"/>
<rect x="998.0" y="322" width="7" height="33" fill="#1848cc"/>
<line x1="1010.5" y1="315" x2="1010.5" y2="351" stroke="#ef5350" stroke-width="1"/>
<rect x="1007.0" y="322" width="7" height="8" fill="#ef5350"/>
<line x1="1019.5" y1="306" x2="1019.5" y2="389" stroke="#ef5350" stroke-width="1"/>
<rect x="1016.0" y="329" width="7" height="54" fill="#ef5350"/>
<line x1="1028.5" y1="352" x2="1028.5" y2="413" stroke="#ef5350" stroke-width="1"/>
<rect x="1025.0" y="382" width="7" height="20" fill="#ef5350"/>
<line x1="1037.5" y1="378" x2="1037.5" y2="416" stroke="#26a69a" stroke-width="1"/>
<rect x="1034.0" y="400" width="7" height="1" fill="#1848cc"/>
<line x1="1046.5" y1="384" x2="1046.5" y2="423" stroke="#ef5350" stroke-width="1"/>
<rect x="1043.0" y="400" width="7" height="2" fill="#ef5350"/>
<line x1="1055.5" y1="391" x2="1055.5" y2="439" stroke="#ef5350" stroke-width="1"/>
<rect x="1052.0" y="401" width="7" height="16" fill="#ef5350"/>
<line x1="1064.5" y1="375" x2="1064.5" y2="420" stroke="#26a69a" stroke-width="1"/>
<rect x="1061.0" y="386" width="7" height="31" fill="#1848cc"/>
<line x1="1073.5" y1="377" x2="1073.5" y2="415" stroke="#ef5350" stroke-width="1"/>
<rect x="1070.0" y="386" width="7" height="10" fill="#ef5350"/>
<line x1="1082.5" y1="368" x2="1082.5" y2="416" stroke="#26a69a" stroke-width="1"/>
<rect x="1079.0" y="371" width="7" height="25" fill="#1848cc"/>
<line x1="1091.5" y1="368" x2="1091.5" y2="434" stroke="#ef5350" stroke-width="1"/>
<rect x="1088.0" y="372" width="7" height="52" fill="#ef5350"/>
<line x1="1100.5" y1="416" x2="1100.5" y2="481" stroke="#ef5350" stroke-width="1"/>
<rect x="1097.0" y="423" width="7" height="56" fill="#ef5350"/>
<line x1="1110.5" y1="475" x2="1110.5" y2="501" stroke="#ef5350" stroke-width="1"/>
<rect x="1107.0" y="478" width="7" height="14" fill="#ef5350"/>
<line x1="1119.5" y1="482" x2="1119.5" y2="523" stroke="#ef5350" stroke-width="1"/>
<rect x="1116.0" y="491" width="7" height="4" fill="#ef5350"/>
<line x1="1128.5" y1="467" x2="1128.5" y2="507" stroke="#26a69a" stroke-width="1"/>
<rect x="1125.0" y="476" width="7" height="19" fill="#1848cc"/>
<line x1="1137.5" y1="460" x2="1137.5" y2="488" stroke="#26a69a" stroke-width="1"/>
<rect x="1134.0" y="472" width="7" height="5" fill="#1848cc"/>
<line x1="1146.5" y1="441" x2="1146.5" y2="479" stroke="#26a69a" stroke-width="1"/>
<rect x="1143.0" y="445" width="7" height="28" fill="#1848cc"/>
<line x1="1155.5" y1="423" x2="1155.5" y2="463" stroke="#26a69a" stroke-width="1"/>
<rect x="1152.0" y="438" width="7" height="8" fill="#1848cc"/>
<line x1="1164.5" y1="359" x2="1164.5" y2="439" stroke="#26a69a" stroke-width="1"/>
<rect x="1161.0" y="400" width="7" height="39" fill="#1848cc"/>
<line x1="1173.5" y1="357" x2="1173.5" y2="419" stroke="#26a69a" stroke-width="1"/>
<rect x="1170.0" y="360" width="7" height="41" fill="#1848cc"/>
<line x1="1182.5" y1="349" x2="1182.5" y2="383" stroke="#ef5350" stroke-width="1"/>
<rect x="1179.0" y="359" width="7" height="9" fill="#ef5350"/>
<rect x="731" y="68" width="323" height="28" fill="#2962ff" fill-opacity="0.55"/>
<rect x="152.5" y="313" width="1037.5" height="13" fill="#2962ff" fill-opacity="0.55"/>
<line x1="10.2" y1="84.8" x2="1412.5" y2="84.8" stroke="#2962ff" stroke-width="2" stroke-dasharray="10 12"/>
<line x1="10.2" y1="372" x2="1412.5" y2="372" stroke="#2962ff" stroke-width="2" stroke-dasharray="10 12"/>
<line x1="10.2" y1="446.9" x2="1412.5" y2="446.9" stroke="#2962ff" stroke-width="2" stroke-dasharray="10 12"/>
<line x1="10.2" y1="511.8" x2="1412.5" y2="511.8" stroke="#2962ff" stroke-width="2" stroke-dasharray="10 12"/>
<rect x="1197" y="370.5" width="29" height="3" fill="#fff"/>
<rect x="1208" y="445.4" width="18" height="3" fill="#fff"/>
<rect x="1208" y="510.3" width="27" height="3" fill="#fff"/>
<line x1="929.3" y1="72.7" x2="1182" y2="508.6" stroke="#9c27b0" stroke-width="1"/>
<text transform="translate(1035.4,236.8) rotate(59.9)" font-size="17" fill="#9c27b0" textLength="111" lengthAdjust="spacingAndGlyphs">Bearish Trend</text>
<circle cx="1182.5" cy="270.1" r="17.5" fill="#ffb74d" fill-opacity="0.35" stroke="#c2185b" stroke-width="1.6"/>
<circle cx="1182.5" cy="323.6" r="17.5" fill="#ffb74d" fill-opacity="0.35" stroke="#c2185b" stroke-width="1.6"/>
<text x="1158.6" y="251.1" font-size="17" fill="#2962ff" font-weight="normal" text-anchor="start" textLength="55.5" lengthAdjust="spacingAndGlyphs">SMA 50</text>
<text x="1131.5" y="348.8" font-size="17" fill="#2962ff" font-weight="normal" text-anchor="start" textLength="65" lengthAdjust="spacingAndGlyphs">SMA 200</text>
<rect x="1244.1" y="248.2" width="87.5" height="33.4" rx="5" fill="#2962ff"/>
<text x="1287.8" y="271.1" font-size="18" fill="#ffffff" font-weight="bold" text-anchor="middle" textLength="68" lengthAdjust="spacingAndGlyphs">1.39151</text>
<rect x="1244.1" y="311.8" width="81.7" height="32.2" rx="5" fill="#2962ff"/>
<text x="1284.9" y="334.1" font-size="18" fill="#ffffff" font-weight="bold" text-anchor="middle" textLength="62.2" lengthAdjust="spacingAndGlyphs">1.38473</text>
<rect x="1226" y="356.6" width="88" height="33.1" rx="5" fill="#2962ff"/>
<text x="1270" y="379.3" font-size="18" fill="#ffffff" font-weight="bold" text-anchor="middle" textLength="68.5" lengthAdjust="spacingAndGlyphs">1.38005</text>
<rect x="1226" y="429" width="81.7" height="31.9" rx="5" fill="#2962ff"/>
<text x="1266.8" y="451.1" font-size="18" fill="#ffffff" font-weight="bold" text-anchor="middle" textLength="62.2" lengthAdjust="spacingAndGlyphs">1.37232</text>
<rect x="1235.2" y="496.2" width="81.8" height="31.6" rx="5" fill="#2962ff"/>
<text x="1276.1" y="518.2" font-size="18" fill="#ffffff" font-weight="bold" text-anchor="middle" textLength="62.3" lengthAdjust="spacingAndGlyphs">1.36546</text>
<g>
<circle cx="1182.5" cy="554.4" r="10.1" fill="#fff" stroke="#9c27b0" stroke-width="1.5"/>
<path d="M1184.9 549.3 L1178.2 555.5 L1182.3 555.5 L1179.1 560.1 L1187 553.6 L1182.7 553.6 Z" fill="#9c27b0"/>
<circle cx="1189.5" cy="547.4" r="3.5" fill="#fff"/><circle cx="1189.5" cy="547.4" r="2.3" fill="#f23645"/>
<g><clipPath id="u11813"><circle cx="1181.3" cy="579" r="7.9"/></clipPath>
<circle cx="1181.3" cy="579" r="9.6" fill="#fff" stroke="#ef5350" stroke-width="1.6"/>
<g clip-path="url(#u11813)">
<rect x="1172.8" y="570.5" width="17" height="17" fill="#fff"/>
<rect x="1172.8" y="572.1" width="17" height="2.4" fill="#ef5350"/>
<rect x="1172.8" y="577.4" width="17" height="3.4" fill="#ef5350"/>
<rect x="1172.8" y="583.7" width="17" height="3.4" fill="#ef5350"/>
<rect x="1172.8" y="570.5" width="11" height="10.4" fill="#2f80ed"/>
<rect x="1174.9" y="573.3" width="1.2" height="0.9" fill="#fff" fill-opacity="0.75"/>
<rect x="1177.1" y="573.3" width="1.2" height="0.9" fill="#fff" fill-opacity="0.75"/>
<rect x="1179.3" y="573.3" width="1.2" height="0.9" fill="#fff" fill-opacity="0.75"/>
<rect x="1181.5" y="573.3" width="1.2" height="0.9" fill="#fff" fill-opacity="0.75"/>
<rect x="1174.9" y="575.8" width="1.2" height="0.9" fill="#fff" fill-opacity="0.75"/>
<rect x="1177.1" y="575.8" width="1.2" height="0.9" fill="#fff" fill-opacity="0.75"/>
<rect x="1179.3" y="575.8" width="1.2" height="0.9" fill="#fff" fill-opacity="0.75"/>
<rect x="1181.5" y="575.8" width="1.2" height="0.9" fill="#fff" fill-opacity="0.75"/>
<rect x="1174.9" y="578.3" width="1.2" height="0.9" fill="#fff" fill-opacity="0.75"/>
<rect x="1177.1" y="578.3" width="1.2" height="0.9" fill="#fff" fill-opacity="0.75"/>
<rect x="1179.3" y="578.3" width="1.2" height="0.9" fill="#fff" fill-opacity="0.75"/>
<rect x="1181.5" y="578.3" width="1.2" height="0.9" fill="#fff" fill-opacity="0.75"/>
</g></g>
<g><clipPath id="c12008"><circle cx="1200.8" cy="579" r="7.9"/></clipPath>
<circle cx="1200.8" cy="579" r="9.6" fill="#fff" stroke="#ef5350" stroke-width="1.6"/>
<g clip-path="url(#c12008)">
<rect x="1192.3" y="570.5" width="17" height="17" fill="#f6f6f6"/>
<rect x="1192.3" y="570.5" width="4.4" height="17" fill="#ef5350"/>
<rect x="1204.8999999999999" y="570.5" width="4.4" height="17" fill="#ef5350"/>
<path d="M1200.8 575.8 l1.1 1.8 l1.6 -0.6 l-0.5 2.1 l1.2 0.7 l-2.4 1.4 h-2 l-2.4 -1.4 l1.2 -0.7 l-0.5 -2.1 l1.6 0.6 Z" fill="#ef5350"/>
</g></g>
<g><clipPath id="c11813"><circle cx="1181.3" cy="604.1" r="7.9"/></clipPath>
<circle cx="1181.3" cy="604.1" r="9.6" fill="#fff" stroke="#ef5350" stroke-width="1.6"/>
<g clip-path="url(#c11813)">
<rect x="1172.8" y="595.6" width="17" height="17" fill="#f6f6f6"/>
<rect x="1172.8" y="595.6" width="4.4" height="17" fill="#ef5350"/>
<rect x="1185.3999999999999" y="595.6" width="4.4" height="17" fill="#ef5350"/>
<path d="M1181.3 600.9 l1.1 1.8 l1.6 -0.6 l-0.5 2.1 l1.2 0.7 l-2.4 1.4 h-2 l-2.4 -1.4 l1.2 -0.7 l-0.5 -2.1 l1.6 0.6 Z" fill="#ef5350"/>
</g></g>
<g><clipPath id="u12002"><circle cx="1200.2" cy="604.1" r="7.9"/></clipPath>
<circle cx="1200.2" cy="604.1" r="9.6" fill="#fff" stroke="#ef5350" stroke-width="1.6"/>
<g clip-path="url(#u12002)">
<rect x="1191.7" y="595.6" width="17" height="17" fill="#fff"/>
<rect x="1191.7" y="597.2" width="17" height="2.4" fill="#ef5350"/>
<rect x="1191.7" y="602.5" width="17" height="3.4" fill="#ef5350"/>
<rect x="1191.7" y="608.8" width="17" height="3.4" fill="#ef5350"/>
<rect x="1191.7" y="595.6" width="11" height="10.4" fill="#2f80ed"/>
<rect x="1193.8" y="598.4" width="1.2" height="0.9" fill="#fff" fill-opacity="0.75"/>
<rect x="1196" y="598.4" width="1.2" height="0.9" fill="#fff" fill-opacity="0.75"/>
<rect x="1198.2" y="598.4" width="1.2" height="0.9" fill="#fff" fill-opacity="0.75"/>
<rect x="1200.4" y="598.4" width="1.2" height="0.9" fill="#fff" fill-opacity="0.75"/>
<rect x="1193.8" y="600.9" width="1.2" height="0.9" fill="#fff" fill-opacity="0.75"/>
<rect x="1196" y="600.9" width="1.2" height="0.9" fill="#fff" fill-opacity="0.75"/>
<rect x="1198.2" y="600.9" width="1.2" height="0.9" fill="#fff" fill-opacity="0.75"/>
<rect x="1200.4" y="600.9" width="1.2" height="0.9" fill="#fff" fill-opacity="0.75"/>
<rect x="1193.8" y="603.4" width="1.2" height="0.9" fill="#fff" fill-opacity="0.75"/>
<rect x="1196" y="603.4" width="1.2" height="0.9" fill="#fff" fill-opacity="0.75"/>
<rect x="1198.2" y="603.4" width="1.2" height="0.9" fill="#fff" fill-opacity="0.75"/>
<rect x="1200.4" y="603.4" width="1.2" height="0.9" fill="#fff" fill-opacity="0.75"/>
</g></g>
<g><clipPath id="u12189"><circle cx="1218.9" cy="604.1" r="7.9"/></clipPath>
<circle cx="1218.9" cy="604.1" r="9.6" fill="#fff" stroke="#ef5350" stroke-width="1.6"/>
<g clip-path="url(#u12189)">
<rect x="1210.4" y="595.6" width="17" height="17" fill="#fff"/>
<rect x="1210.4" y="597.2" width="17" height="2.4" fill="#ef5350"/>
<rect x="1210.4" y="602.5" width="17" height="3.4" fill="#ef5350"/>
<rect x="1210.4" y="608.8" width="17" height="3.4" fill="#ef5350"/>
<rect x="1210.4" y="595.6" width="11" height="10.4" fill="#2f80ed"/>
<rect x="1212.5" y="598.4" width="1.2" height="0.9" fill="#fff" fill-opacity="0.75"/>
<rect x="1214.7" y="598.4" width="1.2" height="0.9" fill="#fff" fill-opacity="0.75"/>
<rect x="1216.9" y="598.4" width="1.2" height="0.9" fill="#fff" fill-opacity="0.75"/>
<rect x="1219.1" y="598.4" width="1.2" height="0.9" fill="#fff" fill-opacity="0.75"/>
<rect x="1212.5" y="600.9" width="1.2" height="0.9" fill="#fff" fill-opacity="0.75"/>
<rect x="1214.7" y="600.9" width="1.2" height="0.9" fill="#fff" fill-opacity="0.75"/>
<rect x="1216.9" y="600.9" width="1.2" height="0.9" fill="#fff" fill-opacity="0.75"/>
<rect x="1219.1" y="600.9" width="1.2" height="0.9" fill="#fff" fill-opacity="0.75"/>
<rect x="1212.5" y="603.4" width="1.2" height="0.9" fill="#fff" fill-opacity="0.75"/>
<rect x="1214.7" y="603.4" width="1.2" height="0.9" fill="#fff" fill-opacity="0.75"/>
<rect x="1216.9" y="603.4" width="1.2" height="0.9" fill="#fff" fill-opacity="0.75"/>
<rect x="1219.1" y="603.4" width="1.2" height="0.9" fill="#fff" fill-opacity="0.75"/>
</g></g>
</g>
</g>
<g clip-path="url(#cr)">
<rect x="10.5" y="624.4" width="1402.0" height="66.8" fill="#7e57c2" fill-opacity="0.1"/>
<line x1="10.5" y1="641.5" x2="1412.5" y2="641.5" stroke="#d5dcf0" stroke-width="1"/>
<line x1="10.5" y1="674.5" x2="1412.5" y2="674.5" stroke="#d5dcf0" stroke-width="1"/>
<line x1="180.5" y1="624.4" x2="180.5" y2="691.2" stroke="#d9e0f0" stroke-width="1"/>
<line x1="369.5" y1="624.4" x2="369.5" y2="691.2" stroke="#d9e0f0" stroke-width="1"/>
<line x1="568.5" y1="624.4" x2="568.5" y2="691.2" stroke="#d9e0f0" stroke-width="1"/>
<line x1="775.5" y1="624.4" x2="775.5" y2="691.2" stroke="#d9e0f0" stroke-width="1"/>
<line x1="956.5" y1="624.4" x2="956.5" y2="691.2" stroke="#d9e0f0" stroke-width="1"/>
<line x1="1155.5" y1="624.4" x2="1155.5" y2="691.2" stroke="#d9e0f0" stroke-width="1"/>
<line x1="1344.5" y1="624.4" x2="1344.5" y2="691.2" stroke="#d9e0f0" stroke-width="1"/>
<line x1="10.5" y1="624.5" x2="1412.5" y2="624.5" stroke="#5a5d68" stroke-width="1" stroke-dasharray="5 6"/>
<line x1="10.5" y1="691.5" x2="1412.5" y2="691.5" stroke="#5a5d68" stroke-width="1" stroke-dasharray="5 6"/>
<line x1="10.5" y1="658.5" x2="1412.5" y2="658.5" stroke="#b5a6c4" stroke-width="1" stroke-dasharray="5 6"/>
<polyline points="10.3,667.8 32.7,667.3 57.8,665.8 80.4,662.8 100.6,660.3 125.7,659 150.8,656 170.9,653.2 191.1,652.2 216.2,652.2 241.3,649.5 266.5,647.2 296.6,646.5 314.2,644.7 326.8,643.9 344.4,644.7 371,648.2 396.1,650.2 433.8,653.2 471.6,656 501.7,654.7 534.4,651 567.1,649 587.2,645.2 612.3,639.7 637.5,634.4 660.1,631.9 685.2,630.1 705.3,631.4 728,633.9 742,637.1 757.6,640.2 775.7,642.2 793.8,642.2 802.8,641.4 820.9,643.4 857.1,645.7 866.2,644.4 893.3,644.4 920.5,647 929.5,649 956.4,652.2 983.6,656 1010.5,662.8 1028.6,670.3 1046.4,677.9 1055.6,681.1 1073.7,685.4 1091.5,688.4 1109.6,690.4 1127.7,690.9 1145.8,689.7 1154.9,687.9 1164.4,686.2 1173.5,684.2 1182.5,681.6" fill="none" stroke="#e6f01f" stroke-width="1.3"/>
<polyline points="10.3,659.5 17.5,662.3 26.5,657.8 35.5,662.8 44.5,656.5 53.5,653.2 62.5,650.2 71.5,658.3 80.5,646.5 89.5,652 98.5,660.3 107.5,671.1 116.5,672.8 125.5,664.6 134.5,653.5 143.5,648.2 152.5,643.9 161.5,636.4 171.5,633.1 180.5,647 189.5,647.7 198.5,649 207.5,654.5 216.5,654.5 225.5,652.2 234.5,647.7 243.5,649.5 252.5,652.2 261.5,641.9 270.5,641.4 279.5,645.7 288.5,634.6 297.5,633.9 306.5,628.4 315.5,648.5 324.5,643.2 333.5,647.7 342.5,657 351.5,664.8 360.5,666.1 369.5,663.5 378.5,657 387.5,654.7 396.5,649.7 405.5,648.2 414.5,654.5 423.5,645.9 432.5,641.9 441.5,650.2 450.5,647.2 459.5,663.5 468.5,670.3 477.5,662.3 487.5,657.3 496.5,661 505.5,652.7 514.5,649 523.5,638.9 532.5,632.6 541.5,632.1 550.5,639.4 559.5,638.2 568.5,635.6 577.5,630.1 586.5,635.9 595.5,637.7 604.5,636.4 613.5,635.9 622.5,624.3 631.5,629.4 640.5,624.3 649.5,622.6 658.5,623.8 667.5,621.8 676.5,634.6 685.5,631.4 694.5,637.1 703.5,646.5 712.5,647.2 721.5,646.5 730.5,648.2 739.5,662.8 748.5,663.5 757.5,650.2 766.5,642.7 775.5,633.1 784.5,625.6 794.5,624.6 803.5,623.3 812.5,646.5 821.5,653.2 830.5,653.5 839.5,657.3 848.5,649 857.5,653.2 866.5,645.7 875.5,662.3 884.5,649.7 893.5,640.9 902.5,639.7 911.5,638.4 920.5,641.9 929.5,655.8 938.5,658.5 947.5,670.3 956.5,664 965.5,669.6 974.5,673.3 983.5,672.1 992.5,690.9 1001.5,683.4 1010.5,684.2 1019.5,690.9 1028.5,693 1037.5,692.5 1046.5,693.2 1055.5,695 1064.5,684.9 1073.5,686.2 1082.5,678.6 1091.5,687.4 1100.5,695 1110.5,696.5 1119.5,696.7 1128.5,690.4 1137.5,689.2 1146.5,679.9 1155.5,677.4 1164.5,666.6 1173.5,655.2 1182.5,657" fill="none" stroke="#9b4fb8" stroke-width="1.15" stroke-linejoin="round"/>
<circle cx="1182.5" cy="657.3" r="8.8" fill="#ffb74d" fill-opacity="0.35" stroke="#c2185b" stroke-width="1.6"/>
<text x="1203.4" y="665.7" font-size="17" fill="#2962ff" font-weight="normal" text-anchor="start" textLength="97.5" lengthAdjust="spacingAndGlyphs">Neutral Bias</text>
</g>
<g clip-path="url(#cd)">
<circle cx="1182.5" cy="732.4" r="11.8" fill="#ffb74d" fill-opacity="0.35" stroke="#c2185b" stroke-width="1.6"/>
<rect x="4.0" y="737" width="8" height="3" fill="#26a69a"/>
<rect x="13.0" y="736" width="8" height="4" fill="#26a69a"/>
<rect x="22.0" y="734" width="8" height="6" fill="#26a69a"/>
<rect x="31.0" y="734" width="8" height="6" fill="#b2dfdb"/>
<rect x="40.0" y="733" width="8" height="7" fill="#26a69a"/>
<rect x="49.0" y="732" width="8" height="8" fill="#26a69a"/>
<rect x="58.0" y="731" width="8" height="9" fill="#26a69a"/>
<rect x="67.0" y="732" width="8" height="8" fill="#b2dfdb"/>
<rect x="76.0" y="730" width="8" height="10" fill="#26a69a"/>
<rect x="85.0" y="731" width="8" height="9" fill="#b2dfdb"/>
<rect x="94.0" y="733" width="8" height="7" fill="#b2dfdb"/>
<rect x="103.0" y="737" width="8" height="3" fill="#b2dfdb"/>
<rect x="112.0" y="739" width="8" height="2" fill="#ff5252"/>
<rect x="121.0" y="739" width="8" height="2" fill="#ff5252"/>
<rect x="130.0" y="738" width="8" height="2" fill="#26a69a"/>
<rect x="139.0" y="736" width="8" height="4" fill="#26a69a"/>
<rect x="148.0" y="733" width="8" height="7" fill="#26a69a"/>
<rect x="157.0" y="730" width="8" height="10" fill="#26a69a"/>
<rect x="167.0" y="727" width="8" height="13" fill="#26a69a"/>
<rect x="176.0" y="728" width="8" height="12" fill="#b2dfdb"/>
<rect x="185.0" y="730" width="8" height="10" fill="#b2dfdb"/>
<rect x="194.0" y="732" width="8" height="8" fill="#b2dfdb"/>
<rect x="203.0" y="735" width="8" height="5" fill="#b2dfdb"/>
<rect x="212.0" y="736" width="8" height="4" fill="#b2dfdb"/>
<rect x="221.0" y="737" width="8" height="3" fill="#b2dfdb"/>
<rect x="230.0" y="737" width="8" height="3" fill="#26a69a"/>
<rect x="239.0" y="738" width="8" height="2" fill="#b2dfdb"/>
<rect x="248.0" y="739" width="8" height="1" fill="#b2dfdb"/>
<rect x="257.0" y="737" width="8" height="3" fill="#26a69a"/>
<rect x="266.0" y="737" width="8" height="3" fill="#26a69a"/>
<rect x="275.0" y="737" width="8" height="3" fill="#b2dfdb"/>
<rect x="284.0" y="735" width="8" height="5" fill="#26a69a"/>
<rect x="293.0" y="734" width="8" height="6" fill="#26a69a"/>
<rect x="302.0" y="732" width="8" height="8" fill="#26a69a"/>
<rect x="311.0" y="735" width="8" height="5" fill="#b2dfdb"/>
<rect x="320.0" y="736" width="8" height="4" fill="#b2dfdb"/>
<rect x="329.0" y="737" width="8" height="3" fill="#b2dfdb"/>
<rect x="338.0" y="739" width="8" height="2" fill="#ff5252"/>
<rect x="347.0" y="739" width="8" height="6" fill="#ff5252"/>
<rect x="356.0" y="739" width="8" height="8" fill="#ff5252"/>
<rect x="365.0" y="739" width="8" height="9" fill="#ff5252"/>
<rect x="374.0" y="739" width="8" height="8" fill="#ffcdd2"/>
<rect x="383.0" y="739" width="8" height="7" fill="#ffcdd2"/>
<rect x="392.0" y="739" width="8" height="5" fill="#ffcdd2"/>
<rect x="401.0" y="739" width="8" height="3" fill="#ffcdd2"/>
<rect x="410.0" y="739" width="8" height="2" fill="#ffcdd2"/>
<rect x="419.0" y="739" width="8" height="2" fill="#ffcdd2"/>
<rect x="428.0" y="738" width="8" height="2" fill="#26a69a"/>
<rect x="437.0" y="739" width="8" height="1" fill="#b2dfdb"/>
<rect x="446.0" y="738" width="8" height="2" fill="#26a69a"/>
<rect x="455.0" y="739" width="8" height="2" fill="#ff5252"/>
<rect x="464.0" y="739" width="8" height="5" fill="#ff5252"/>
<rect x="473.0" y="739" width="8" height="6" fill="#ff5252"/>
<rect x="483.0" y="739" width="8" height="5" fill="#ffcdd2"/>
<rect x="492.0" y="739" width="8" height="5" fill="#ffcdd2"/>
<rect x="501.0" y="739" width="8" height="3" fill="#ffcdd2"/>
<rect x="510.0" y="739" width="8" height="2" fill="#ffcdd2"/>
<rect x="519.0" y="736" width="8" height="4" fill="#26a69a"/>
<rect x="528.0" y="733" width="8" height="7" fill="#26a69a"/>
<rect x="537.0" y="731" width="8" height="9" fill="#26a69a"/>
<rect x="546.0" y="732" width="8" height="8" fill="#b2dfdb"/>
<rect x="555.0" y="732" width="8" height="8" fill="#b2dfdb"/>
<rect x="564.0" y="732" width="8" height="8" fill="#b2dfdb"/>
<rect x="573.0" y="732" width="8" height="8" fill="#26a69a"/>
<rect x="582.0" y="733" width="8" height="7" fill="#b2dfdb"/>
<rect x="591.0" y="734" width="8" height="6" fill="#b2dfdb"/>
<rect x="600.0" y="735" width="8" height="5" fill="#b2dfdb"/>
<rect x="609.0" y="736" width="8" height="4" fill="#b2dfdb"/>
<rect x="618.0" y="734" width="8" height="6" fill="#26a69a"/>
<rect x="627.0" y="734" width="8" height="6" fill="#b2dfdb"/>
<rect x="636.0" y="734" width="8" height="6" fill="#26a69a"/>
<rect x="645.0" y="733" width="8" height="7" fill="#26a69a"/>
<rect x="654.0" y="734" width="8" height="6" fill="#b2dfdb"/>
<rect x="663.0" y="734" width="8" height="6" fill="#b2dfdb"/>
<rect x="672.0" y="736" width="8" height="4" fill="#b2dfdb"/>
<rect x="681.0" y="737" width="8" height="3" fill="#b2dfdb"/>
<rect x="690.0" y="739" width="8" height="1" fill="#b2dfdb"/>
<rect x="699.0" y="739" width="8" height="2" fill="#ff5252"/>
<rect x="708.0" y="739" width="8" height="5" fill="#ff5252"/>
<rect x="717.0" y="739" width="8" height="5" fill="#ff5252"/>
<rect x="726.0" y="739" width="8" height="6" fill="#ff5252"/>
<rect x="735.0" y="739" width="8" height="8" fill="#ff5252"/>
<rect x="744.0" y="739" width="8" height="9" fill="#ff5252"/>
<rect x="753.0" y="739" width="8" height="8" fill="#ffcdd2"/>
<rect x="762.0" y="739" width="8" height="7" fill="#ffcdd2"/>
<rect x="771.0" y="739" width="8" height="4" fill="#ffcdd2"/>
<rect x="780.0" y="738" width="8" height="2" fill="#26a69a"/>
<rect x="790.0" y="736" width="8" height="4" fill="#26a69a"/>
<rect x="799.0" y="735" width="8" height="5" fill="#26a69a"/>
<rect x="808.0" y="737" width="8" height="3" fill="#b2dfdb"/>
<rect x="817.0" y="739" width="8" height="1" fill="#ff5252"/>
<rect x="826.0" y="739" width="8" height="2" fill="#ff5252"/>
<rect x="835.0" y="739" width="8" height="5" fill="#ff5252"/>
<rect x="844.0" y="739" width="8" height="5" fill="#ffcdd2"/>
<rect x="853.0" y="739" width="8" height="5" fill="#ff5252"/>
<rect x="862.0" y="739" width="8" height="4" fill="#ffcdd2"/>
<rect x="871.0" y="739" width="8" height="6" fill="#ff5252"/>
<rect x="880.0" y="739" width="8" height="4" fill="#ffcdd2"/>
<rect x="889.0" y="739" width="8" height="2" fill="#ffcdd2"/>
<rect x="898.0" y="738" width="8" height="2" fill="#26a69a"/>
<rect x="907.0" y="737" width="8" height="3" fill="#26a69a"/>
<rect x="916.0" y="737" width="8" height="3" fill="#26a69a"/>
<rect x="925.0" y="739" width="8" height="1" fill="#ff5252"/>
<rect x="934.0" y="739" width="8" height="3" fill="#ff5252"/>
<rect x="943.0" y="739" width="8" height="6" fill="#ff5252"/>
<rect x="952.0" y="739" width="8" height="7" fill="#ff5252"/>
<rect x="961.0" y="739" width="8" height="9" fill="#ff5252"/>
<rect x="970.0" y="739" width="8" height="10" fill="#ff5252"/>
<rect x="979.0" y="739" width="8" height="10" fill="#ff5252"/>
<rect x="988.0" y="739" width="8" height="14" fill="#ff5252"/>
<rect x="997.0" y="739" width="8" height="15" fill="#ff5252"/>
<rect x="1006.0" y="739" width="8" height="15" fill="#ff5252"/>
<rect x="1015.0" y="739" width="8" height="17" fill="#ff5252"/>
<rect x="1024.0" y="739" width="8" height="17" fill="#ff5252"/>
<rect x="1033.0" y="739" width="8" height="16" fill="#ffcdd2"/>
<rect x="1042.0" y="739" width="8" height="15" fill="#ffcdd2"/>
<rect x="1051.0" y="739" width="8" height="14" fill="#ffcdd2"/>
<rect x="1060.0" y="739" width="8" height="11" fill="#ffcdd2"/>
<rect x="1069.0" y="739" width="8" height="9" fill="#ffcdd2"/>
<rect x="1078.0" y="739" width="8" height="6" fill="#ffcdd2"/>
<rect x="1087.0" y="739" width="8" height="5" fill="#ffcdd2"/>
<rect x="1096.0" y="739" width="8" height="7" fill="#ff5252"/>
<rect x="1106.0" y="739" width="8" height="7" fill="#ff5252"/>
<rect x="1115.0" y="739" width="8" height="7" fill="#ffcdd2"/>
<rect x="1124.0" y="739" width="8" height="5" fill="#ffcdd2"/>
<rect x="1133.0" y="739" width="8" height="4" fill="#ffcdd2"/>
<rect x="1142.0" y="739" width="8" height="2" fill="#ffcdd2"/>
<rect x="1151.0" y="737" width="8" height="3" fill="#26a69a"/>
<rect x="1160.0" y="734" width="8" height="6" fill="#26a69a"/>
<rect x="1169.0" y="731" width="8" height="9" fill="#26a69a"/>
<rect x="1178.0" y="729" width="8" height="11" fill="#26a69a"/>
<line x1="10.5" y1="739.5" x2="1412.5" y2="739.5" stroke="#9598a1" stroke-width="1" stroke-dasharray="5 6"/>
<polyline points="10.3,758.8 25.1,754.5 35.4,752.8 50.3,748.3 62.8,744.5 71.6,743.7 85.5,739 95.5,739 108.1,743.7 116.6,746.5 125.4,747 134.5,744.5 143.5,740.2 152.6,735.2 161.4,729.9 171.4,725.6 180.5,724.4 198.6,723.9 213.7,726.4 234.5,727.4 252.4,727.4 266.5,725.1 279.5,724.4 288.3,721.4 297.4,718.6 306.4,716.3 315.5,717.6 326.8,718.1 336.9,720.6 351.4,727.6 362,731.9 371,733.7 386.1,734.4 405.4,732.7 414.5,733.2 432.6,729.9 450.7,729.4 459.5,732.4 468.5,736.2 477.6,737.5 495.7,738.7 513.8,735.7 522.8,731.9 531.9,727.4 540.9,723.9 550,721.9 568.1,719.4 577.1,717.3 595.2,716.1 613.3,716.1 622.4,713.6 640.5,710.6 649.5,708.5 667.6,706.8 685.7,708.8 703.8,713.1 721.9,718.1 731,720.6 742,725.1 752.1,727.4 766.6,727.4 775.7,724.9 784.7,721.4 802.8,716.3 811.9,718.1 830,723.1 839,725.1 857.1,726.9 866.2,727.4 875.2,730.2 884.3,729.9 893.3,727.6 902.4,726.1 911.4,724.4 920.5,723.9 929.5,725.6 938.6,728.1 947.6,732.7 956.4,734.9 965.5,738.2 974.5,742 983.6,745 992.6,752.8 1001.7,757.1 1010.5,760.3 1019.5,765.4 1028.6,769.6 1037.6,772.9 1046.4,775.2 1055.6,777.2 1073.7,776.4 1082.5,774.7 1091.5,775.4 1100.6,777.9 1118.7,781.7 1127.7,781.7 1136.8,780.4 1145.8,777.9 1154.9,775.2 1164.4,770.4 1173.5,765.4 1182.5,760.8" fill="none" stroke="#2962ff" stroke-width="1.2"/>
<polyline points="10.3,761.3 25.1,758.8 44.5,756.6 62.8,752.5 80.4,748.8 95.5,745.7 108.1,745.2 125.4,745.7 143.5,744 161.4,740 180.5,734.9 198.6,730.7 213.7,729.4 234.5,728.7 252.4,728.1 270.5,726.9 288.3,725.1 306.4,722.4 324.3,720.6 336.9,720.1 351.4,722.4 371,726.1 391.1,729.4 414.5,731.2 432.6,731.2 450.7,730.2 468.5,732.4 486.6,733.9 513.8,735.2 531.9,733.2 550,729.4 568.1,726.1 595.2,721.4 613.3,719.4 631.4,716.8 649.5,713.8 667.6,711.8 685.7,710.6 703.8,711.1 721.9,713.1 731,714.3 742,717.3 757.6,720.6 775.7,722.4 793.8,721.4 811.9,720.1 830,720.6 857.1,723.6 884.3,726.4 902.4,726.4 920.5,725.6 938.6,726.1 956.4,728.7 974.5,732.4 983.6,733.9 992.6,737.7 1001.7,742.7 1010.5,747 1019.5,751.3 1028.6,755.3 1037.6,759.1 1046.4,762.1 1055.6,764.6 1073.7,768.9 1091.5,770.9 1109.6,773.9 1127.7,776.7 1145.8,777.7 1154.9,777.2 1164.4,775.9 1173.5,773.9 1182.5,771.4" fill="none" stroke="#ff6d00" stroke-width="1.2"/>
</g>
<g shape-rendering="crispEdges">
<line x1="10.5" y1="617.5" x2="1473" y2="617.5" stroke="#e0e3eb" stroke-width="1"/>
<line x1="10.5" y1="702.5" x2="1473" y2="702.5" stroke="#e0e3eb" stroke-width="1"/>
<line x1="1412.5" y1="27.5" x2="1412.5" y2="814.5" stroke="#4a4e59" stroke-width="1"/>
<line x1="10.5" y1="787.5" x2="1473" y2="787.5" stroke="#4a4e59" stroke-width="1"/>
</g>
<text x="18" y="45.8" font-size="12" fill="#40434d" font-weight="normal" text-anchor="start" textLength="251" lengthAdjust="spacingAndGlyphs">U.S. Dollar / Canadian Dollar · 1D · FOREXCOM</text>
<text x="276.4" y="45.8" font-size="12" fill="#40434d" font-weight="normal" text-anchor="start">O</text>
<text x="285.5" y="45.8" font-size="12" fill="#ef5350" font-weight="normal" text-anchor="start" textLength="41.5" lengthAdjust="spacingAndGlyphs">1.38150</text>
<text x="334.3" y="45.8" font-size="12" fill="#40434d" font-weight="normal" text-anchor="start">H</text>
<text x="342.8" y="45.8" font-size="12" fill="#ef5350" font-weight="normal" text-anchor="start" textLength="41.5" lengthAdjust="spacingAndGlyphs">1.38270</text>
<text x="391.6" y="45.8" font-size="12" fill="#40434d" font-weight="normal" text-anchor="start">L</text>
<text x="398" y="45.8" font-size="12" fill="#ef5350" font-weight="normal" text-anchor="start" textLength="41.5" lengthAdjust="spacingAndGlyphs">1.37904</text>
<text x="447.2" y="45.8" font-size="12" fill="#40434d" font-weight="normal" text-anchor="start">C</text>
<text x="454.6" y="45.8" font-size="12" fill="#ef5350" font-weight="normal" text-anchor="start" textLength="41.5" lengthAdjust="spacingAndGlyphs">1.38067</text>
<text x="503.8" y="45.8" font-size="12" fill="#ef5350" font-weight="normal" text-anchor="start" textLength="96.7" lengthAdjust="spacingAndGlyphs">−0.00077 (−0.06%)</text>
<text x="609" y="45.8" font-size="12" fill="#ef5350" font-weight="normal" text-anchor="start" textLength="96.7" lengthAdjust="spacingAndGlyphs">−0.00077 (−0.06%)</text>
<text x="18" y="63.3" font-size="12" fill="#40434d" font-weight="normal" text-anchor="start" textLength="87" lengthAdjust="spacingAndGlyphs">SMA (200, close)</text>
<text x="113.5" y="63.3" font-size="12" fill="#e65100" font-weight="normal" text-anchor="start" textLength="41.5" lengthAdjust="spacingAndGlyphs">1.38505</text>
<text x="18" y="80" font-size="12" fill="#40434d" font-weight="normal" text-anchor="start" textLength="81" lengthAdjust="spacingAndGlyphs">SMA (50, close)</text>
<text x="107.5" y="80" font-size="12" fill="#2962ff" font-weight="normal" text-anchor="start" textLength="41.5" lengthAdjust="spacingAndGlyphs">1.39124</text>
<text x="18" y="97.3" font-size="12" fill="#40434d" font-weight="normal" text-anchor="start" textLength="128.5" lengthAdjust="spacingAndGlyphs">Ichimoku (9, 26, 52, 26)</text>
<text x="154" y="97.3" font-size="12" fill="#81c784" font-weight="normal" text-anchor="start" textLength="41.5" lengthAdjust="spacingAndGlyphs">1.37817</text>
<text x="204" y="97.3" font-size="12" fill="#ef9a9a" font-weight="normal" text-anchor="start" textLength="41.5" lengthAdjust="spacingAndGlyphs">1.38915</text>
<text x="18" y="637.1" font-size="12" fill="#40434d" font-weight="normal" text-anchor="start" textLength="76" lengthAdjust="spacingAndGlyphs">RSI (14, close)</text>
<text x="101.8" y="637.1" font-size="12" fill="#9b59b6" font-weight="normal" text-anchor="start" textLength="29" lengthAdjust="spacingAndGlyphs">50.16</text>
<text x="138.8" y="637.1" font-size="12" fill="#e6f01f" font-weight="normal" text-anchor="start" textLength="29" lengthAdjust="spacingAndGlyphs">35.72</text>
<text x="18" y="722.3" font-size="12" fill="#40434d" font-weight="normal" text-anchor="start" textLength="125" lengthAdjust="spacingAndGlyphs">MACD (close, 12, 26, 9)</text>
<text x="150.8" y="722.3" font-size="12" fill="#26a69a" font-weight="normal" text-anchor="start" textLength="41.5" lengthAdjust="spacingAndGlyphs">0.00182</text>
<text x="200.4" y="722.3" font-size="12" fill="#2962ff" font-weight="normal" text-anchor="start" textLength="48" lengthAdjust="spacingAndGlyphs">−0.00407</text>
<text x="255.9" y="722.3" font-size="12" fill="#f57c00" font-weight="normal" text-anchor="start" textLength="48" lengthAdjust="spacingAndGlyphs">−0.00589</text>
<rect x="1413.0" y="27.5" width="60.0" height="759.7" fill="#ffffff"/>
<line x1="1412.5" y1="617.5" x2="1473" y2="617.5" stroke="#e0e3eb"/><line x1="1412.5" y1="702.5" x2="1473" y2="702.5" stroke="#e0e3eb"/>
<text x="1421.5" y="52.3" font-size="11" fill="#40434d" font-weight="normal" text-anchor="start" textLength="38" lengthAdjust="spacingAndGlyphs">1.41500</text>
<text x="1421.5" y="97.8" font-size="11" fill="#40434d" font-weight="normal" text-anchor="start" textLength="38" lengthAdjust="spacingAndGlyphs">1.41000</text>
<text x="1421.5" y="144.3" font-size="11" fill="#40434d" font-weight="normal" text-anchor="start" textLength="38" lengthAdjust="spacingAndGlyphs">1.40500</text>
<text x="1421.5" y="190.3" font-size="11" fill="#40434d" font-weight="normal" text-anchor="start" textLength="38" lengthAdjust="spacingAndGlyphs">1.40000</text>
<text x="1421.5" y="237.3" font-size="11" fill="#40434d" font-weight="normal" text-anchor="start" textLength="38" lengthAdjust="spacingAndGlyphs">1.39500</text>
<text x="1421.5" y="274.3" font-size="11" fill="#40434d" font-weight="normal" text-anchor="start" textLength="38" lengthAdjust="spacingAndGlyphs">1.39100</text>
<text x="1421.5" y="312.3" font-size="11" fill="#40434d" font-weight="normal" text-anchor="start" textLength="38" lengthAdjust="spacingAndGlyphs">1.38700</text>
<text x="1421.5" y="349.3" font-size="11" fill="#40434d" font-weight="normal" text-anchor="start" textLength="38" lengthAdjust="spacingAndGlyphs">1.38300</text>
<text x="1421.5" y="387.3" font-size="11" fill="#40434d" font-weight="normal" text-anchor="start" textLength="38" lengthAdjust="spacingAndGlyphs">1.37900</text>
<text x="1421.5" y="425.3" font-size="11" fill="#40434d" font-weight="normal" text-anchor="start" textLength="38" lengthAdjust="spacingAndGlyphs">1.37500</text>
<text x="1421.5" y="453.3" font-size="11" fill="#40434d" font-weight="normal" text-anchor="start" textLength="38" lengthAdjust="spacingAndGlyphs">1.37200</text>
<text x="1421.5" y="482.3" font-size="11" fill="#40434d" font-weight="normal" text-anchor="start" textLength="38" lengthAdjust="spacingAndGlyphs">1.36900</text>
<text x="1421.5" y="510.3" font-size="11" fill="#40434d" font-weight="normal" text-anchor="start" textLength="38" lengthAdjust="spacingAndGlyphs">1.36600</text>
<text x="1421.5" y="539.3" font-size="11" fill="#40434d" font-weight="normal" text-anchor="start" textLength="38" lengthAdjust="spacingAndGlyphs">1.36300</text>
<text x="1421.5" y="567.3" font-size="11" fill="#40434d" font-weight="normal" text-anchor="start" textLength="38" lengthAdjust="spacingAndGlyphs">1.36000</text>
<text x="1421.5" y="596.3" font-size="11" fill="#40434d" font-weight="normal" text-anchor="start" textLength="38" lengthAdjust="spacingAndGlyphs">1.35700</text>
<text x="1421.5" y="645" font-size="11" fill="#40434d" font-weight="normal" text-anchor="start" textLength="27" lengthAdjust="spacingAndGlyphs">60.00</text>
<text x="1421.5" y="678.6" font-size="11" fill="#40434d" font-weight="normal" text-anchor="start" textLength="27" lengthAdjust="spacingAndGlyphs">40.00</text>
<text x="1421.5" y="742.8" font-size="11" fill="#40434d" font-weight="normal" text-anchor="start" textLength="38" lengthAdjust="spacingAndGlyphs">0.00000</text>
<rect x="1383" y="50" width="80.6" height="15.6" rx="2" fill="#e3effd"/>
<text x="1388" y="60.8" font-size="11" fill="#131722" font-weight="normal" text-anchor="start" textLength="21" lengthAdjust="spacingAndGlyphs">High</text>
<rect x="1385" y="579.2" width="78.6" height="16.6" rx="2" fill="#e3effd"/>
<text x="1389.5" y="591.5" font-size="11" fill="#131722" font-weight="normal" text-anchor="start" textLength="19" lengthAdjust="spacingAndGlyphs">Low</text>
<text x="1421.5" y="61.8" font-size="11" fill="#131722" font-weight="normal" text-anchor="start" textLength="38" lengthAdjust="spacingAndGlyphs">1.41408</text>
<text x="1421.5" y="591.5" font-size="11" fill="#131722" font-weight="normal" text-anchor="start" textLength="38" lengthAdjust="spacingAndGlyphs">1.35758</text>
<line x1="1412.5" y1="50" x2="1412.5" y2="66" stroke="#4a4e59"/><line x1="1412.5" y1="579" x2="1412.5" y2="596" stroke="#4a4e59"/>
<rect x="1413" y="28" width="59" height="32.3" fill="#fff"/>
<rect x="1415.5" y="31" width="54.5" height="26" rx="4" fill="#fff" stroke="#ebedf3"/>
<text x="1425" y="49.3" font-size="11.5" fill="#131722" font-weight="normal" text-anchor="start" textLength="23" lengthAdjust="spacingAndGlyphs">CAD</text>
<path d="M1413 77.2 H1461.1 Q1463.6 77.2 1463.6 79.7 V91.3 Q1463.6 93.8 1461.1 93.8 H1413 Z" fill="#2962ff"/>
<text x="1421.5" y="89.5" font-size="11" fill="#fff" font-weight="bold" text-anchor="start" textLength="38" lengthAdjust="spacingAndGlyphs">1.41091</text>
<path d="M1413 261 H1461.1 Q1463.6 261 1463.6 263.5 V274.5 Q1463.6 277 1461.1 277 H1413 Z" fill="#2962ff"/>
<text x="1421.5" y="273" font-size="11" fill="#fff" font-weight="bold" text-anchor="start" textLength="38" lengthAdjust="spacingAndGlyphs">1.39124</text>
<path d="M1413 279 H1461.1 Q1463.6 279 1463.6 281.5 V293.5 Q1463.6 296 1461.1 296 H1413 Z" fill="#ef9a9a"/>
<text x="1421.5" y="291.5" font-size="11" fill="#131722" font-weight="normal" text-anchor="start" textLength="38" lengthAdjust="spacingAndGlyphs">1.38915</text>
<path d="M1413 318.1 H1461.1 Q1463.6 318.1 1463.6 320.6 V332.2 Q1463.6 334.7 1461.1 334.7 H1413 Z" fill="#e65100"/>
<text x="1421.5" y="330.4" font-size="11" fill="#fff" font-weight="bold" text-anchor="start" textLength="38" lengthAdjust="spacingAndGlyphs">1.38505</text>
<path d="M1413 359.6 H1465.5 Q1468 359.6 1468 362.1 V385.7 Q1468 388.2 1465.5 388.2 H1413 Z" fill="#ef5350"/>
<text x="1421.5" y="377.9" font-size="11" fill="#fff" font-weight="bold" text-anchor="start" textLength="38" lengthAdjust="spacingAndGlyphs"></text>
<text x="1421.5" y="371.8" font-size="11" fill="#fff" font-weight="bold" text-anchor="start" textLength="38" lengthAdjust="spacingAndGlyphs">1.38067</text>
<text x="1421.5" y="384.8" font-size="11" fill="#ffd9d9" font-weight="normal" text-anchor="start" textLength="43" lengthAdjust="spacingAndGlyphs">06:17:10</text>
<rect x="1366" y="359.6" width="46" height="16" rx="2" fill="#ef5350"/>
<text x="1369.5" y="371.8" font-size="11" fill="#fff" font-weight="normal" text-anchor="start" textLength="39.5" lengthAdjust="spacingAndGlyphs">USDCAD</text>
<path d="M1413 388.7 H1461.1 Q1463.6 388.7 1463.6 391.2 V402.1 Q1463.6 404.6 1461.1 404.6 H1413 Z" fill="#2962ff"/>
<text x="1421.5" y="400.6" font-size="11" fill="#fff" font-weight="bold" text-anchor="start" textLength="38" lengthAdjust="spacingAndGlyphs">1.38018</text>
<path d="M1413 405 H1461.1 Q1463.6 405 1463.6 407.5 V416.9 Q1463.6 419.4 1461.1 419.4 H1413 Z" fill="#a5d6a7"/>
<text x="1421.5" y="416.2" font-size="11" fill="#131722" font-weight="normal" text-anchor="start" textLength="38" lengthAdjust="spacingAndGlyphs">1.37817</text>
<path d="M1413 439.2 H1461.1 Q1463.6 439.2 1463.6 441.7 V453.4 Q1463.6 455.9 1461.1 455.9 H1413 Z" fill="#2962ff"/>
<text x="1421.5" y="451.5" font-size="11" fill="#fff" font-weight="bold" text-anchor="start" textLength="38" lengthAdjust="spacingAndGlyphs">1.37220</text>
<path d="M1413 504 H1461.1 Q1463.6 504 1463.6 506.5 V517.9 Q1463.6 520.4 1461.1 520.4 H1413 Z" fill="#2962ff"/>
<text x="1421.5" y="516.2" font-size="11" fill="#fff" font-weight="bold" text-anchor="start" textLength="38" lengthAdjust="spacingAndGlyphs">1.36541</text>
<path d="M1413 649.5 H1450.1 Q1452.6 649.5 1452.6 652 V663.3 Q1452.6 665.8 1450.1 665.8 H1413 Z" fill="#9b59b6"/>
<text x="1421.5" y="661.6" font-size="11" fill="#fff" font-weight="bold" text-anchor="start" textLength="27" lengthAdjust="spacingAndGlyphs">50.16</text>
<path d="M1413 674.4 H1450.1 Q1452.6 674.4 1452.6 676.9 V688.2 Q1452.6 690.7 1450.1 690.7 H1413 Z" fill="#e8f52f"/>
<text x="1421.5" y="686.5" font-size="11" fill="#131722" font-weight="normal" text-anchor="start" textLength="27" lengthAdjust="spacingAndGlyphs">35.72</text>
<path d="M1413 721.4 H1461.1 Q1463.6 721.4 1463.6 723.9 V735.2 Q1463.6 737.7 1461.1 737.7 H1413 Z" fill="#26a69a"/>
<text x="1421.5" y="733.5" font-size="11" fill="#fff" font-weight="bold" text-anchor="start" textLength="38" lengthAdjust="spacingAndGlyphs">0.00182</text>
<path d="M1413 754.3 H1467.5 Q1470 754.3 1470 756.8 V767.4 Q1470 769.9 1467.5 769.9 H1413 Z" fill="#2962ff"/>
<text x="1421.5" y="766.1" font-size="11" fill="#fff" font-weight="bold" text-anchor="start" textLength="44.5" lengthAdjust="spacingAndGlyphs">−0.00407</text>
<path d="M1413 769.9 H1467.5 Q1470 769.9 1470 772.4 V783.5 Q1470 786 1467.5 786 H1413 Z" fill="#f8711a"/>
<text x="1421.5" y="781.9" font-size="11" fill="#fff" font-weight="bold" text-anchor="start" textLength="44.5" lengthAdjust="spacingAndGlyphs">−0.00589</text>
<text x="180" y="804.4" font-size="11" fill="#40434d" font-weight="normal" text-anchor="middle">Aug</text>
<text x="369.3" y="804.4" font-size="11" fill="#40434d" font-weight="normal" text-anchor="middle">Sep</text>
<text x="568" y="804.4" font-size="11" fill="#40434d" font-weight="normal" text-anchor="middle">Oct</text>
<text x="775.4" y="804.4" font-size="11" fill="#40434d" font-weight="normal" text-anchor="middle">Nov</text>
<text x="956" y="804.4" font-size="11" fill="#40434d" font-weight="normal" text-anchor="middle">Dec</text>
<text x="1155" y="804.4" font-size="11" fill="#40434d" font-weight="bold" text-anchor="middle">2026</text>
<text x="1344.3" y="804.4" font-size="11" fill="#40434d" font-weight="normal" text-anchor="middle">Feb</text>
<text x="10.5" y="19.3" font-size="12" fill="#e4e4e4" font-weight="bold" text-anchor="start" textLength="365" lengthAdjust="spacingAndGlyphs">jepinedac created with TradingView.com, Jan 07, 2026 10:42 UTC-5</text>
<g fill="#dcdcdc"><path d="M11.9 836.9 h12.3 v15 h-6.7 v-8.7 h-5.6 z"/><circle cx="28.4" cy="840.2" r="2.8"/><path d="M34.1 836.9 h7.7 l-5.9 15 h-7 z"/></g>
<text x="49.3" y="852" font-size="20.7" fill="#dcdcdc" font-weight="bold" text-anchor="start" textLength="120.4" lengthAdjust="spacingAndGlyphs">TradingView</text>
</svg>
</body></html>
